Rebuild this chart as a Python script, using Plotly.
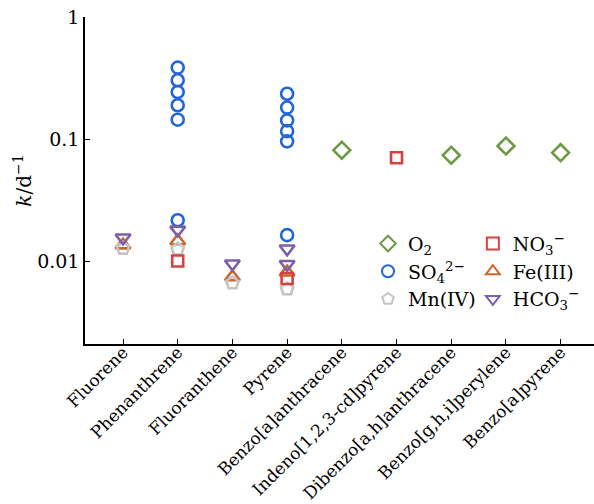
import plotly.graph_objects as go

categories = ["Fluorene", "Phenanthrene", "Fluoranthene", "Pyrene",
              "Benzo[a]anthracene", "Indeno[1,2,3-cd]pyrene",
              "Dibenzo[a,h]anthracene", "Benzo[g,h,i]perylene", "Benzo[a]pyrene"]

o2_x = ["Benzo[a]anthracene", "Dibenzo[a,h]anthracene", "Benzo[g,h,i]perylene", "Benzo[a]pyrene"]
o2_y = [0.081, 0.0735, 0.0877, 0.0773]

no3_x = ["Phenanthrene", "Pyrene", "Indeno[1,2,3-cd]pyrene"]
no3_y = [0.0100, 0.0072, 0.0703]

so4_x = ["Phenanthrene"] * 6 + ["Pyrene"] * 6
so4_y = [0.385, 0.303, 0.243, 0.189, 0.144, 0.0216,
         0.235, 0.181, 0.142, 0.116, 0.0957, 0.0163]

fe_x = ["Fluorene", "Phenanthrene", "Fluoranthene", "Pyrene"]
fe_y = [0.0135, 0.0146, 0.0074, 0.0081]

mn_x = ["Fluorene", "Phenanthrene", "Fluoranthene", "Pyrene"]
mn_y = [0.0127, 0.0125, 0.0066, 0.0059]

hco3_x = ["Fluorene", "Phenanthrene", "Fluoranthene", "Pyrene", "Pyrene"]
hco3_y = [0.0155, 0.0180, 0.0095, 0.0126, 0.0094]

FONT = "DejaVu Serif"

fig = go.Figure()

def add(name, xs, ys, symbol, color, size, legend, rank):
    fig.add_trace(go.Scatter(
        x=xs, y=ys, mode="markers", name=name, legend=legend, legendrank=rank,
        marker=dict(symbol=symbol, size=size, color=color,
                    line=dict(color=color, width=2.6)),
    ))

add("O<sub>2</sub>", o2_x, o2_y, "diamond-open", "#6e9a45", 13, "legend", 1)
add("SO<sub>4</sub><sup>2−</sup>", so4_x, so4_y, "circle-open", "#2265d6", 12, "legend", 2)
add("Fe(III)", fe_x, fe_y, "triangle-up-open", "#c8682e", 13, "legend2", 2)
add("Mn(IV)", mn_x, mn_y, "pentagon-open", "#c4c4c4", 13, "legend", 3)
add("NO<sub>3</sub><sup>−</sup>", no3_x, no3_y, "square-open", "#d9413f", 11, "legend2", 1)
add("HCO<sub>3</sub><sup>−</sup>", hco3_x, hco3_y, "triangle-down-open", "#7d5fa8", 13, "legend2", 3)

legend_common = dict(
    font=dict(family=FONT, size=19, color="black"),
    bgcolor="rgba(0,0,0,0)", borderwidth=0,
    tracegroupgap=0, itemsizing="constant",
    xanchor="left", yanchor="top", itemwidth=30,
)

fig.update_layout(
    width=594, height=504,
    margin=dict(l=85, r=0, t=17, b=160),
    paper_bgcolor="white", plot_bgcolor="white",
    font=dict(family=FONT, size=19, color="black"),
    showlegend=True,
    legend=dict(x=0.556, y=0.365, **legend_common),
    legend2=dict(x=0.762, y=0.365, **legend_common),
    xaxis=dict(
        type="category", categoryorder="array", categoryarray=categories,
        range=[-0.695, 8.61], tickangle=-45, automargin=False,
        ticklabelstandoff=-10,
        showline=True, linecolor="black", linewidth=1.5,
        ticks="inside", ticklen=5, tickcolor="black", tickwidth=1.2,
        showgrid=False, zeroline=False,
        tickfont=dict(family=FONT, size=17, color="black"),
    ),
    yaxis=dict(
        type="log", range=[-2.68, 0], automargin=False,
        tickvals=[0.01, 0.1, 1], ticktext=["0.01", "0.1", "1"],
        showline=True, linecolor="black", linewidth=1.5,
        ticks="inside", ticklen=5, tickcolor="black", tickwidth=1.2,
        showgrid=False, zeroline=False,
        tickfont=dict(family=FONT, size=19, color="black"),
        title=dict(text="<i>k</i>/d<sup>−1</sup>", standoff=0,
                   font=dict(family=FONT, size=20, color="black")),
    ),
)

fig.write_html("out.html")
